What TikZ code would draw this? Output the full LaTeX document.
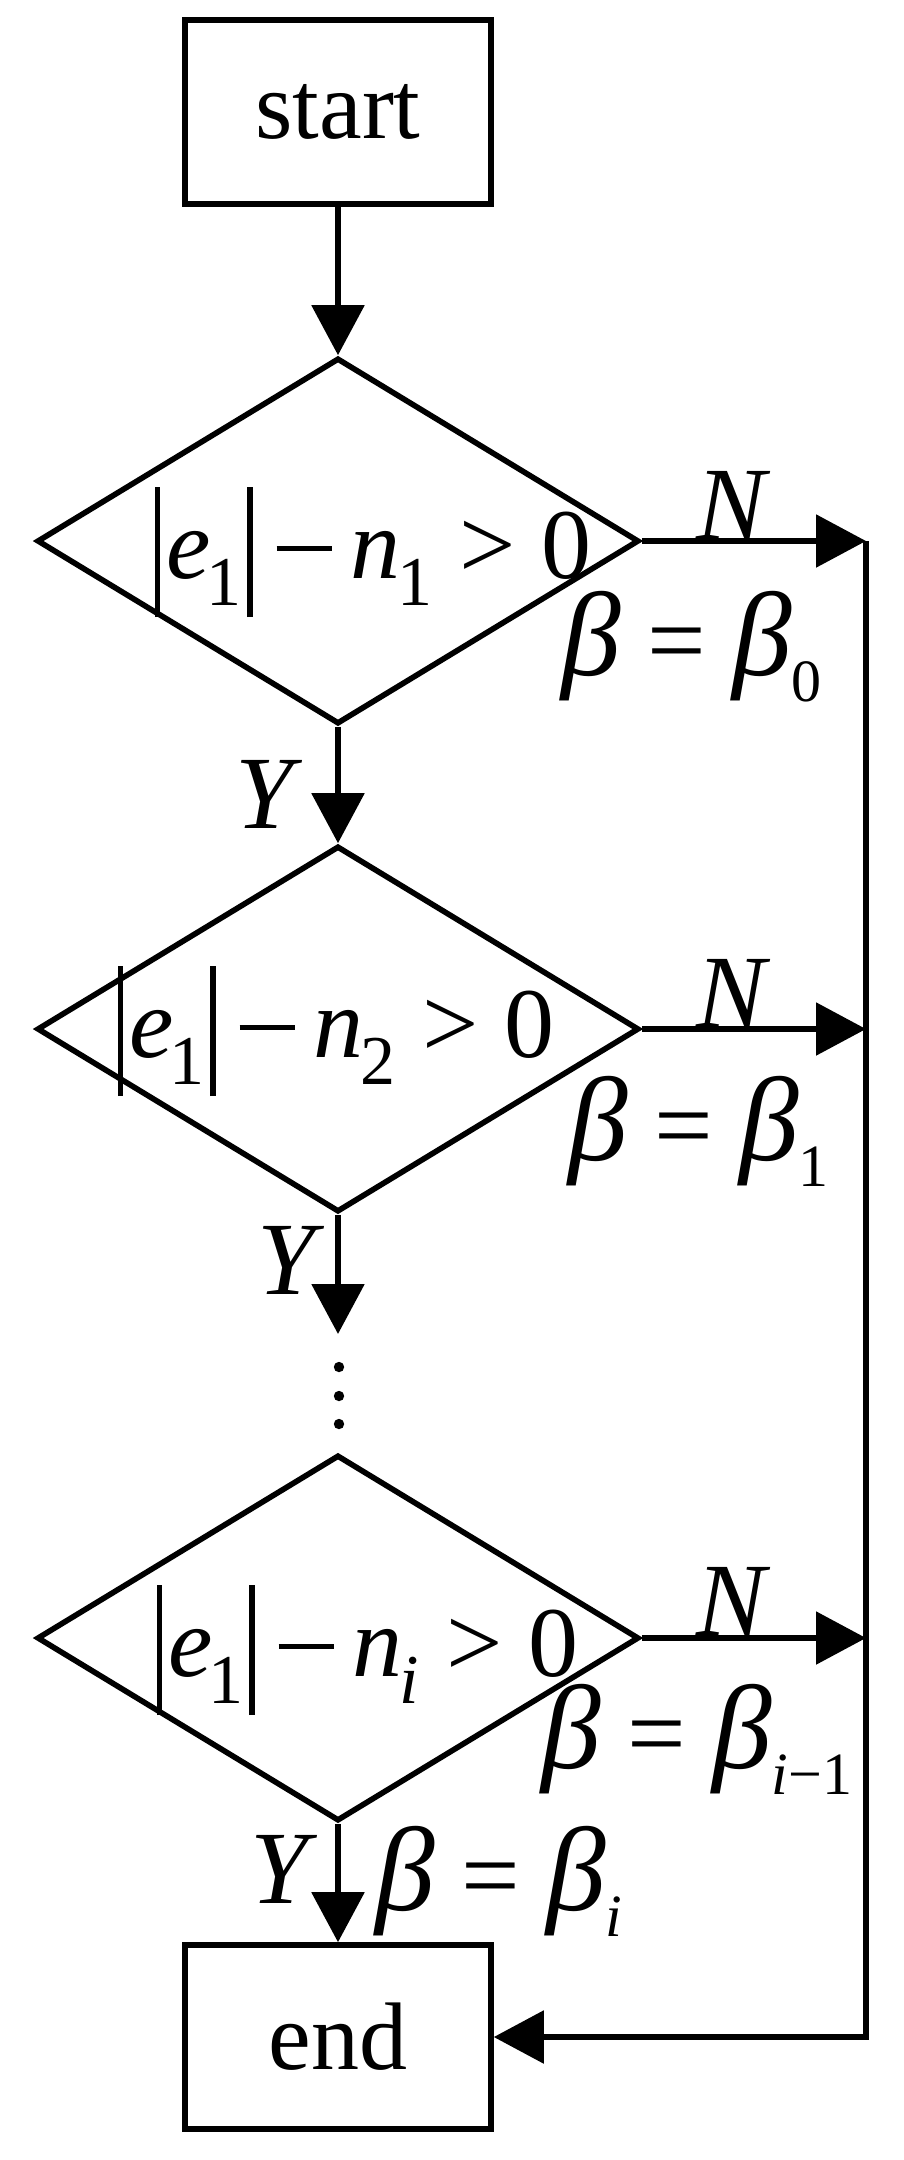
\documentclass[tikz,border=0pt]{standalone}
\usepackage{fontspec}
\setmainfont{Liberation Serif}
\usetikzlibrary{shapes.geometric,arrows.meta}
\newcommand{\fsub}[1]{\raisebox{-13.5pt}{\fontsize{35}{35}\selectfont #1}}
\newcommand{\lsub}[1]{\raisebox{-13pt}{\fontsize{30}{30}\selectfont #1}}
\newcommand{\absbar}{\rule[-19.5pt]{2.6pt}{65pt}}
\newcommand{\minus}{\rule[13.5pt]{27.5pt}{2.3pt}}
\newcommand{\bet}{\textit{\scalebox{1.15}{β}}}
\newcommand{\cond}[1]{\absbar\hspace{3pt}\textit{e}\hspace{-2pt}\fsub{1}\hspace{3pt}\absbar\hspace{12pt}\minus\hspace{9.5pt}\textit{n}\hspace{-1.5pt}\fsub{#1}\hspace{13.5pt}>\hspace{13pt}0}
\begin{document}
\begin{tikzpicture}[x=0.5pt,y=-0.5pt,line width=2.8pt,
>={Triangle[length=25pt,width=26pt]},
term/.style ={rectangle, draw, inner sep=0pt,
  minimum width=153pt, minimum height=92pt,
  font=\fontsize{48}{48}\selectfont
},
decision/.style ={diamond, draw, inner sep=0pt,
  minimum width=301pt, minimum height=183pt
},
formula/.style ={inner sep=0pt, anchor=base west,
  font=\fontsize{50}{50}\selectfont
},
answer/.style ={inner sep=0pt, anchor=base,
  font=\fontsize{52}{52}\selectfont\itshape
},
assign/.style ={inner sep=0pt, anchor=base west,
  font=\fontsize{52}{52}\selectfont
}]
\useasboundingbox (0,0) rectangle (904,2160);
\node (start) at (338,112) [term] {start};
\node (d1) at (338,541) [decision] {};
\node (d2) at (338,1029) [decision] {};
\node (d3) at (338,1638) [decision] {};
\node (finish) at (338,2037) [term] {end};
\node (f1) at (152,578) [formula] {\cond{1}};
\node (f2) at (115,1057) [formula] {\cond{2}};
\node (f3) at (154,1676) [formula] {\cond{\textit{i}}};
\coordinate (gap) at (338,1334);
\coordinate (r1) at (866,541);
\coordinate (r2) at (866,1029);
\coordinate (r3) at (866,1638);
\foreach \y in {1367,1396,1424} \fill (339,\y) circle (2.6pt);
\draw[->] (start) -- (d1);
\draw[->] (d1) -- (d2);
\draw[->] (d2) -- (gap);
\draw[->] (d3) -- (finish);
\draw[->] (d1.east) -- (r1);
\draw[->] (d2.east) -- (r2);
\draw[->] (d3.east) -- (r3);
\draw[->] (r1) |- (finish);
\node (n1) at (731,539) [answer] {N};
\node (n2) at (731,1027) [answer] {N};
\node (n3) at (731,1635) [answer] {N};
\node (y1) at (264,828) [answer] {Y};
\node (y2) at (286,1294) [answer] {Y};
\node (y3) at (279,1903) [answer] {Y};
\node (b0) at (559,675) [assign] {\bet{} = \bet\lsub{0}};
\node (b1) at (566,1160) [assign] {\bet{} = \bet\lsub{1}};
\node (b2) at (539,1768) [assign] {\bet{} = \bet\lsub{\textit{i}−1}};
\node (b3) at (373,1910) [assign] {\bet{} = \bet\lsub{\textit{i}}};
\end{tikzpicture}
\end{document}
